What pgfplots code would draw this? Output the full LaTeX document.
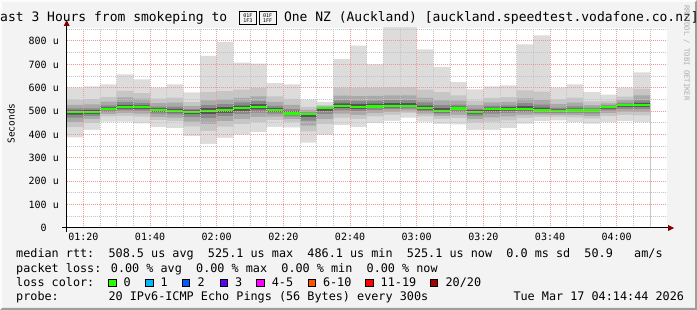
\documentclass[border=0pt]{standalone}
\usepackage{pgfplots}
\pgfplotsset{compat=1.18}
\usepackage{pgfplotstable}
\usepackage{fontspec}
\setmainfont{DejaVu Sans Mono}
\newfontfamily\mono{DejaVu Sans Mono}
\definecolor{bgc}{HTML}{F3F3F3}
\definecolor{sha}{HTML}{FCFCFC}
\definecolor{shb}{HTML}{9E9E9E}
\definecolor{arrowc}{HTML}{800000}
\definecolor{mgrid}{HTML}{F09A9A}
\definecolor{ngrid}{HTML}{C4C4C4}
\definecolor{sA}{HTML}{DCDCDC}
\definecolor{sB}{HTML}{C6C6C6}
\definecolor{sC}{HTML}{A9A9A9}
\definecolor{sD}{HTML}{8A8A8A}
\definecolor{sE}{HTML}{555555}
\definecolor{lc0}{HTML}{26FF00}
\definecolor{lc1}{HTML}{00B8FF}
\definecolor{lc2}{HTML}{0059FF}
\definecolor{lc3}{HTML}{5E00FF}
\definecolor{lc4}{HTML}{FF00FE}
\definecolor{lc6}{HTML}{FF5500}
\definecolor{lc11}{HTML}{FF0000}
\definecolor{lc20}{HTML}{A10000}
\definecolor{wm}{HTML}{ABABAB}
\pgfplotstableread{
x min l2lo l3lo l4lo l5lo med l5hi l4hi l3hi l2hi max
75 388 431 453 472 485 496 503 512 527 548 600
80 420 450 466 479 488 496 504 512 529 551 606
85 455 477 487 497 504 509 516 525 541 561 614
90 455 480 492 503 511 517 527 538 559 587 657
95 448 476 489 502 510 517 525 535 553 577 636
100 431 461 475 489 498 505 512 519 534 553 600
105 427 457 472 486 495 502 510 519 536 558 614
110 393 435 455 474 487 497 503 509 522 539 580
115 360 416 445 470 487 501 513 526 546 581 736
120 386 434 457 479 493 505 517 530 550 585 796
125 399 444 467 487 501 512 524 537 557 592 707
130 410 453 475 494 507 518 530 543 563 598 703
135 433 462 476 489 498 505 513 522 540 563 620
140 430 454 466 477 484 490 499 509 527 552 614
145 365 413 438 459 474 486 490 495 505 518 549
150 398 444 466 487 501 512 514 516 520 526 540
155 440 472 489 503 513 521 533 546 566 601 722
160 432 467 484 500 510 519 531 544 564 599 780
165 449 477 492 504 513 520 532 545 565 600 700
170 458 484 496 508 516 522 534 547 567 602 870
175 472 492 502 511 517 522 534 547 567 602 870
180 455 478 489 499 506 512 524 537 557 592 764
185 445 467 479 489 495 501 513 526 546 581 689
190 443 470 484 496 504 511 519 528 545 567 624
195 420 451 466 480 489 497 504 511 526 545 593
200 420 455 473 489 499 508 515 523 537 557 606
205 427 460 477 492 502 510 517 525 540 560 610
210 446 471 484 495 503 509 521 534 554 589 786
215 457 475 485 493 498 503 515 528 548 583 824
220 460 476 484 491 496 500 507 515 530 550 600
225 453 473 483 492 498 503 511 520 536 558 614
230 446 469 480 490 497 503 508 515 526 542 581
235 453 479 491 503 511 517 521 525 533 544 571
240 457 484 498 510 518 525 530 536 547 562 600
245 453 482 496 509 518 525 535 546 567 595 666
250 453 482 496 509 518 525 535 546 567 595 666
}\smoke
\begin{document}
\begin{tikzpicture}
\useasboundingbox (0bp,0bp) rectangle (697bp,310bp);
\fill[bgc] (0bp,0bp) rectangle (697bp,310bp);
\fill[sha] (0bp,0bp) -- (0bp,310bp) -- (697bp,310bp) -- (695bp,308bp) -- (2bp,308bp) -- (2bp,2bp) -- cycle;
\fill[shb] (0bp,0bp) -- (697bp,0bp) -- (697bp,310bp) -- (695bp,308bp) -- (695bp,2bp) -- (2bp,2bp) -- cycle;
\begin{axis}[
  at={(66.7bp,82bp)}, anchor=south west,
  scale only axis, width=600bp, height=200bp,
  xmin=75, xmax=255, ymin=0, ymax=855.6,
  enlargelimits=false,
  axis background/.style={fill=white},
  axis line style={draw=none},
  axis on top,
  major tick length=0pt, minor tick length=0pt,
  xtick={80,100,...,240},
  xticklabels={01:20,01:40,02:00,02:20,02:40,03:00,03:20,03:40,04:00},
  minor xtick={85,90,95,105,110,115,125,130,135,145,150,155,165,170,175,185,190,195,205,210,215,225,230,235,245,250},
  ytick={0,100,...,800},
  yticklabels={0\hphantom{\ u},100 u,200 u,300 u,400 u,500 u,600 u,700 u,800 u},
  minor ytick={50,150,...,850},
  grid=both,
  major grid style={draw=mgrid, line width=1bp, dash pattern=on 1bp off 1bp},
  minor grid style={draw=ngrid, line width=1bp, dash pattern=on 1bp off 1bp},
  ticklabel style={font=\mono\fontsize{10bp}{12bp}\selectfont, inner sep=0pt},
  xticklabel style={anchor=base, yshift=-12.5bp},
  yticklabel style={anchor=east, xshift=-7.7bp},
]
\addplot[const plot mark left, fill=sA, draw=none] table[x=x,y=max]{\smoke} \closedcycle;
\addplot[const plot mark left, fill=sB, draw=none] table[x=x,y=l2hi]{\smoke} \closedcycle;
\addplot[const plot mark left, fill=sC, draw=none] table[x=x,y=l3hi]{\smoke} \closedcycle;
\addplot[const plot mark left, fill=sD, draw=none] table[x=x,y=l4hi]{\smoke} \closedcycle;
\addplot[const plot mark left, fill=sE, draw=none] table[x=x,y=l5hi]{\smoke} \closedcycle;
\addplot[const plot mark left, fill=sD, draw=none] table[x=x,y=l5lo]{\smoke} \closedcycle;
\addplot[const plot mark left, fill=sC, draw=none] table[x=x,y=l4lo]{\smoke} \closedcycle;
\addplot[const plot mark left, fill=sB, draw=none] table[x=x,y=l3lo]{\smoke} \closedcycle;
\addplot[const plot mark left, fill=sA, draw=none] table[x=x,y=l2lo]{\smoke} \closedcycle;
\addplot[const plot mark left, fill=white, draw=none] table[x=x,y=min]{\smoke} \closedcycle;
\addplot[jump mark left, draw=lc0, line width=2.2bp, mark=none] table[x=x,y=med]{\smoke};
\end{axis}
% axes with arrows
\draw[black, line width=1bp] (62bp,82bp) -- (669bp,82bp);
\fill[arrowc] (668bp,79bp) -- (674bp,82bp) -- (668bp,85bp) -- cycle;
\draw[black, line width=1bp] (66.7bp,78bp) -- (66.7bp,284bp);
\fill[arrowc] (63.7bp,284bp) -- (66.7bp,290bp) -- (69.7bp,284bp) -- cycle;
% title
\begin{scope}[every node/.style={inner sep=0pt, font=\mono\fontsize{13bp}{15bp}\selectfont}]
\node[anchor=base west] at (-7.8bp,288bp) {Last 3 Hours from smokeping to};
\node[anchor=base west] at (283.8bp,288bp) {One NZ (Auckland) [auckland.speedtest.vodafone.co.nz]};
\end{scope}
\node[draw=black, line width=0.7bp, minimum width=17bp, minimum height=13bp, inner sep=0pt, anchor=south west, font=\mono\fontsize{5bp}{5.5bp}\selectfont, align=center] at (239bp,285bp) {01F\\1F3};
\node[draw=black, line width=0.7bp, minimum width=17bp, minimum height=13bp, inner sep=0pt, anchor=south west, font=\mono\fontsize{5bp}{5.5bp}\selectfont, align=center] at (258.7bp,285bp) {01F\\1FF};
% y label
\node[rotate=90, inner sep=0pt, font=\mono\fontsize{9.5bp}{11bp}\selectfont] at (11bp,186.5bp) {Seconds};
% watermark
\node[rotate=-90, anchor=west, inner sep=0pt, text=wm, font=\mono\fontsize{7.2bp}{8bp}\selectfont] at (686.7bp,305bp) {RRDTOOL / TOBI OETIKER};
% legend
\begin{scope}[every node/.style={inner sep=0pt, anchor=base west, font=\mono\fontsize{11.8bp}{14bp}\selectfont}]
\node at (16bp,52bp) {median rtt:\ \ 508.5 us avg\ \ 525.1 us max\ \ 486.1 us min\ \ 525.1 us now\ \ 0.0 ms sd\ \ 50.9\ \ \ am/s};
\node at (16bp,38bp) {packet loss: 0.00 \% avg\ \ 0.00 \% max\ \ 0.00 \% min\ \ 0.00 \% now};
\node at (16bp,24bp) {loss color:};
\node at (16bp,10bp) {probe:\ \ \ \ \ \ \ 20 IPv6-ICMP Echo Pings (56 Bytes) every 300s};
\node at (513.3bp,10bp) {Tue Mar 17 04:14:44 2026};
\foreach \bx/\col/\lab in {108.3/lc0/0, 145.3/lc1/1, 182.2/lc2/2, 219.6/lc3/3, 256.4/lc4/4-5, 307.6/lc6/6-10, 365.3/lc11/11-19, 430.2/lc20/{20/20}}{
  \filldraw[fill=\col, draw=black, line width=0.8bp] (\bx bp+0.4bp,23.4bp) rectangle (\bx bp+7.6bp,30.6bp);
  \node at (\bx bp+15.2bp,24bp) {\lab};
}
\end{scope}
\end{tikzpicture}
\end{document}
